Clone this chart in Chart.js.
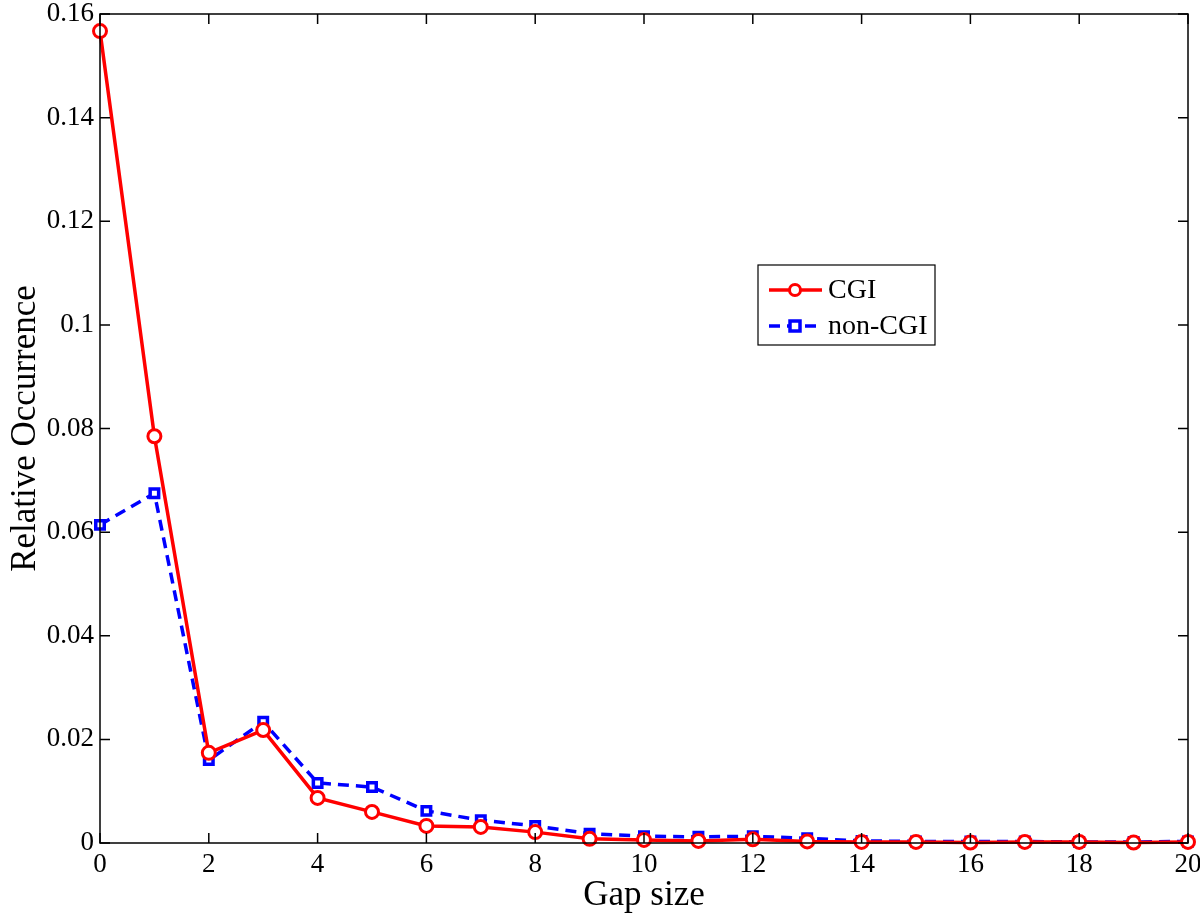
<!DOCTYPE html>
<html>
<head>
<meta charset="utf-8">
<script src="https://cdn.jsdelivr.net/npm/chart.js@4/dist/chart.umd.min.js"></script>
<style>
  html, body { margin: 0; padding: 0; background: #fff; }
  #wrap { width: 1200px; height: 917px; }
</style>
</head>
<body>
<div id="wrap"><canvas id="gapChart" width="1200" height="917"></canvas></div>
<script>
const gapSizes = [0, 1, 2, 3, 4, 5, 6, 7, 8, 9, 10, 11, 12, 13, 14, 15, 16, 17, 18, 19, 20];
const cgiValues = [0.1567, 0.0785, 0.0174, 0.0218, 0.0087, 0.0060, 0.0033, 0.0031, 0.0021, 0.0008, 0.0006,
  0.0004, 0.0007, 0.0003, 0.0002, 0.0002, 0.0001, 0.0002, 0.0002, 0.0001, 0.0002];
const nonCgiValues = [0.0614, 0.0675, 0.0160, 0.0234, 0.0116, 0.0108, 0.0062, 0.0044, 0.0033, 0.0018, 0.0013,
  0.0012, 0.0013, 0.0009, 0.0004, 0.0003, 0.0003, 0.0003, 0.0002, 0.0002, 0.0003];
const xTicks = [0, 2, 4, 6, 8, 10, 12, 14, 16, 18, 20];
const yTicks = [0, 0.02, 0.04, 0.06, 0.08, 0.1, 0.12, 0.14, 0.16];

const FONT = '"Liberation Serif", "Times New Roman", serif';

function toPoints(values) {
  return gapSizes.map((g, i) => ({ x: g, y: values[i] }));
}

// frame, inward ticks on all four sides and the boxed legend, matlab style
const framePlugin = {
  id: 'frame',
  afterDatasetsDraw(chart) {
    const { ctx, chartArea: a, scales } = chart;
    const len = 10;
    ctx.save();
    ctx.strokeStyle = '#000';
    ctx.lineWidth = 1.5;
    ctx.strokeRect(a.left, a.top, a.right - a.left, a.bottom - a.top);
    ctx.beginPath();
    xTicks.forEach(t => {
      const px = scales.x.getPixelForValue(t);
      ctx.moveTo(px, a.bottom); ctx.lineTo(px, a.bottom - len);
      ctx.moveTo(px, a.top); ctx.lineTo(px, a.top + len);
    });
    yTicks.forEach(t => {
      const py = scales.y.getPixelForValue(t);
      ctx.moveTo(a.left, py); ctx.lineTo(a.left + len, py);
      ctx.moveTo(a.right, py); ctx.lineTo(a.right - len, py);
    });
    ctx.stroke();

    // legend box
    const bx = 758, by = 265, bw = 177, bh = 80;
    ctx.fillStyle = '#fff';
    ctx.fillRect(bx, by, bw, bh);
    ctx.lineWidth = 1.2;
    ctx.strokeRect(bx, by, bw, bh);
    ctx.font = '28px ' + FONT;
    ctx.textBaseline = 'middle';
    chart.data.datasets.forEach((ds, i) => {
      const ly = by + 25 + i * 36;
      ctx.strokeStyle = ds.borderColor;
      ctx.lineWidth = ds.borderWidth;
      ctx.setLineDash(ds.borderDash || []);
      ctx.beginPath();
      ctx.moveTo(bx + 11, ly); ctx.lineTo(bx + 64, ly);
      ctx.stroke();
      ctx.setLineDash([]);
      ctx.lineWidth = ds.pointBorderWidth;
      ctx.fillStyle = '#fff';
      ctx.beginPath();
      const r = ds.pointRadius - 1;
      if (ds.pointStyle === 'circle') {
        ctx.arc(bx + 37, ly, r, 0, Math.PI * 2);
      } else {
        ctx.rect(bx + 37 - r, ly - r, r * 2, r * 2);
      }
      ctx.fill();
      ctx.stroke();
      ctx.fillStyle = '#000';
      ctx.fillText(ds.label, bx + 70, ly + 1);
    });
    ctx.restore();
  }
};

new Chart(document.getElementById('gapChart').getContext('2d'), {
  type: 'line',
  data: {
    datasets: [
      {
        label: 'CGI',
        data: toPoints(cgiValues),
        borderColor: '#ff0000',
        borderWidth: 3.5,
        pointStyle: 'circle',
        pointRadius: 6.5,
        pointBorderWidth: 3,
        pointBorderColor: '#ff0000',
        pointBackgroundColor: '#fff',
        tension: 0
      },
      {
        label: 'non-CGI',
        data: toPoints(nonCgiValues),
        borderColor: '#0000ff',
        borderWidth: 3.5,
        borderDash: [11, 7],
        pointStyle: 'rect',
        pointRadius: 6,
        pointBorderWidth: 3.5,
        pointBorderColor: '#0000ff',
        pointBackgroundColor: '#fff',
        tension: 0
      }
    ]
  },
  options: {
    responsive: false,
    animation: false,
    clip: false,
    layout: { padding: { left: 0, right: 12, top: 14, bottom: 0 } },
    plugins: {
      legend: { display: false },
      tooltip: { enabled: false }
    },
    scales: {
      x: {
        type: 'linear',
        min: 0,
        max: 20,
        afterFit(scale) {
          scale.height = 74;
          scale.paddingLeft = 0;
          scale.paddingRight = 0;
        },
        afterBuildTicks(scale) { scale.ticks = xTicks.map(v => ({ value: v })); },
        grid: { display: false, drawTicks: false, tickLength: 0 },
        border: { display: false },
        ticks: {
          color: '#000',
          font: { family: FONT, size: 27, lineHeight: 1 },
          padding: 8,
          maxRotation: 0,
          callback: v => String(v)
        },
        title: {
          display: true,
          text: 'Gap size',
          color: '#000',
          font: { family: FONT, size: 35, lineHeight: 1 },
          padding: { top: 0, bottom: 4 }
        }
      },
      y: {
        type: 'linear',
        min: 0,
        max: 0.16,
        afterFit(scale) {
          scale.width = 100;
          scale.paddingTop = 0;
          scale.paddingBottom = 0;
        },
        afterBuildTicks(scale) { scale.ticks = yTicks.map(v => ({ value: v })); },
        grid: { display: false, drawTicks: false, tickLength: 0 },
        border: { display: false },
        ticks: {
          color: '#000',
          font: { family: FONT, size: 27, lineHeight: 1 },
          padding: 6,
          callback: v => v === 0 ? '0' : String(+v.toFixed(2))
        },
        title: {
          display: true,
          text: 'Relative Occurrence',
          color: '#000',
          font: { family: FONT, size: 35, lineHeight: 1 },
          padding: { top: 8, bottom: 0 }
        }
      }
    }
  },
  plugins: [framePlugin]
});
</script>
</body>
</html>
